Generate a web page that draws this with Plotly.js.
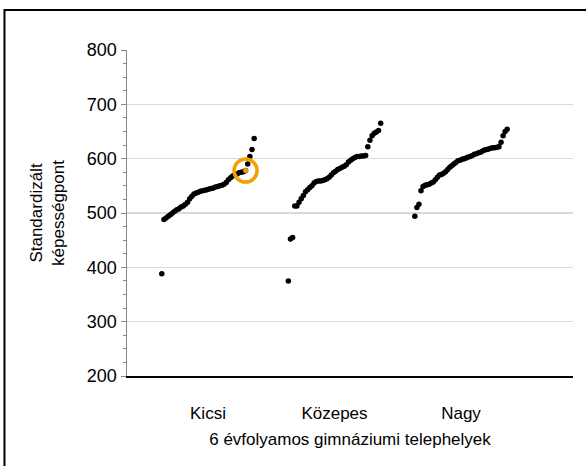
<!DOCTYPE html>
<html>
<head>
<meta charset="utf-8">
<script src="https://cdn.plot.ly/plotly-3.0.1.min.js"></script>
<style>
html,body{margin:0;padding:0;background:#fff;}
#chart{width:586px;height:466px;}
</style>
</head>
<body>
<div id="chart"></div>
<script>
// Category labels
const categories = ['Kicsi', 'Közepes', 'Nagy'];
const xTitle = '6 évfolyamos gimnáziumi telephelyek';
const yTitle = 'Standardizált<br>képességpont';

// Sorted standardized scores per site, per category
const kicsi = [388, 488, 491, 494, 497, 500, 503, 506, 508, 511, 513, 516, 520, 526, 531, 535,
  537, 538, 540, 541, 542, 543, 544, 545, 546, 548, 549, 550, 551, 553, 556, 561, 565, 568,
  570, 572, 574, 575, 576, 578, 590, 604, 617, 637];
const kozepes = [375, 452, 455, 513, 513, 520, 526, 532, 539, 543, 547, 550, 555, 558, 559, 559,
  560, 561, 563, 566, 570, 574, 577, 580, 582, 584, 586, 589, 594, 597, 600, 602, 604, 604,
  605, 605, 606, 622, 634, 642, 647, 649, 652, 665];
const nagy = [494, 510, 516, 541, 549, 551, 552, 553, 555, 557, 561, 566, 570, 571, 573, 576,
  580, 584, 587, 590, 593, 596, 597, 599, 600, 601, 603, 604, 606, 608, 609, 611, 612, 614,
  616, 617, 618, 619, 620, 620, 621, 622, 630, 642, 650, 654];

// Highlighted site (index within Kicsi)
const highlightIndex = 39;

const groups = [kicsi, kozepes, nagy];
const spread = 0.73;

function xPositions(arr, center) {
  const n = arr.length;
  return arr.map((_, i) => center + (i / (n - 1) - 0.5) * spread);
}

const traces = groups.map((vals, g) => ({
  type: 'scatter',
  mode: 'markers',
  x: xPositions(vals, g + 1),
  y: vals,
  marker: {color: '#000', size: 5.5},
  hoverinfo: 'y',
  showlegend: false
}));

const kx = xPositions(kicsi, 1);
traces.push({
  type: 'scatter', mode: 'markers',
  x: [kx[highlightIndex]], y: [kicsi[highlightIndex]],
  marker: {color: '#F4A000', size: 5},
  showlegend: false, hoverinfo: 'y'
});
traces.push({
  type: 'scatter', mode: 'markers',
  x: [kx[highlightIndex]], y: [kicsi[highlightIndex]],
  marker: {symbol: 'circle-open', color: '#F4A000', size: 23, line: {width: 3.5, color: '#F4A000'}},
  showlegend: false, hoverinfo: 'skip'
});

const font = {family: '"Liberation Sans", Arial, sans-serif', color: '#000'};

const layout = {
  width: 586, height: 466,
  margin: {l: 127, r: 13, t: 50, b: 90},
  paper_bgcolor: '#fff', plot_bgcolor: '#fff',
  font: font,
  showlegend: false,
  xaxis: {
    range: [0.36, 3.885],
    tickvals: [1, 2, 3],
    ticktext: categories,
    ticks: 'outside', ticklen: 21, tickcolor: 'rgba(0,0,0,0)',
    tickfont: {size: 17, family: font.family, color: '#000'},
    showgrid: false, zeroline: false,
    showline: true, linecolor: '#000', linewidth: 1.5,
    title: {text: xTitle, font: {size: 17, family: font.family, color: '#000'}, standoff: 11},
    automargin: false
  },
  yaxis: {
    range: [200, 800],
    tickvals: [200, 300, 400, 500, 600, 700, 800],
    ticks: 'outside', ticklen: 5, tickcolor: '#888', tickwidth: 1,
    minor: {dtick: 25, ticks: 'outside', ticklen: 3, tickcolor: '#888', tickwidth: 1, showgrid: false},
    tickfont: {size: 18, family: font.family, color: '#000'},
    showgrid: true, gridcolor: '#d9d9d9', gridwidth: 1.5,
    zeroline: false,
    showline: true, linecolor: '#888', linewidth: 1.5,
    title: {text: yTitle, font: {size: 17, family: font.family, color: '#000'}, standoff: 18},
    automargin: false
  },
  shapes: [{
    type: 'rect', xref: 'paper', yref: 'paper',
    x0: -0.2747, x1: 1.3, y0: -0.6, y1: 1.1227,
    line: {color: '#000', width: 2}, fillcolor: 'rgba(0,0,0,0)', layer: 'below'
  }]
};

Plotly.newPlot('chart', traces, layout, {displayModeBar: false, staticPlot: true});
</script>
</body>
</html>
